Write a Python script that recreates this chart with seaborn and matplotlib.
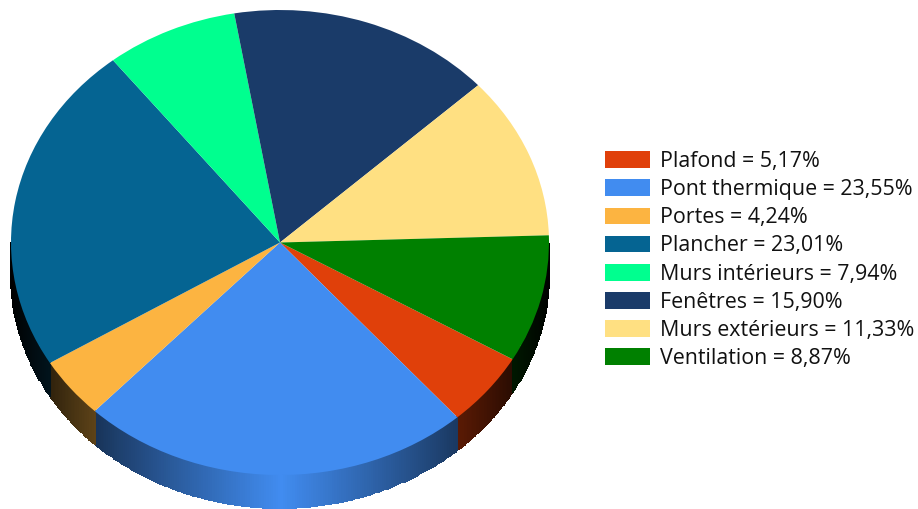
import numpy as np
import matplotlib
matplotlib.use("Agg")
import matplotlib.pyplot as plt
from matplotlib.colors import to_rgb
import seaborn as sns

postes = ["Plafond", "Pont thermique", "Portes", "Plancher",
          "Murs intérieurs", "Fenêtres", "Murs extérieurs", "Ventilation"]
parts = [5.17, 23.55, 4.24, 23.01, 7.94, 15.90, 11.33, 8.87]
etiquettes = ["5,17%", "23,55%", "4,24%", "23,01%", "7,94%", "15,90%", "11,33%", "8,87%"]
couleurs = ["#E0400A", "#418CF0", "#FCB441", "#056492",
            "#00FF8F", "#1A3B69", "#FFE082", "#008000"]

sns.set_theme(style="white", palette=couleurs)
plt.rcParams["font.family"] = ["Open Sans", "DejaVu Sans"]

W, H = 918, 509
CX, CY, RX, RY, EP = 280.0, 242.5, 269.0, 232.5, 33.0
DEPART = -30.15

fig = plt.figure(figsize=(W / 100, H / 100), dpi=100, facecolor="white")
ax = fig.add_axes([0, 0, 1, 1])

wedges, _ = ax.pie(parts, colors=sns.color_palette(couleurs), startangle=DEPART,
                   counterclock=False, radius=1.0, wedgeprops={"linewidth": 0, "zorder": 3})

# Flattened disc: one data unit is RX pixels across and RY pixels down
ax.set_aspect("auto")
ax.set_xlim(-CX / RX, (W - CX) / RX)
ax.set_ylim((CY - H) / RY, CY / RY)
ep = EP / RY


def ombre(u):
    # The side wall darkens from the middle of the disc towards both edges
    return np.clip(1 - np.abs(u), 0, 1) ** 0.85


# Side wall: only the part of each slice facing the viewer (lower half)
angles = DEPART - np.cumsum([0] + parts) * 360 / sum(parts)
for i, couleur in enumerate(couleurs):
    haut, bas = angles[i], angles[i + 1]
    for fen_h, fen_b in ((0, -180), (-360, -540)):
        h, b = min(haut, fen_h), max(bas, fen_b)
        if h <= b:
            continue
        t = np.radians(np.linspace(h, b, max(2, int((h - b) * 2))))
        x = np.cos(t)
        y = np.sin(t)
        X = np.vstack([x, x])
        Y = np.vstack([y, y - ep])
        um = (x[:-1] + x[1:]) / 2
        C = np.array(to_rgb(couleur))[None, None, :] * ombre(um)[None, :, None]
        ax.pcolormesh(X, Y, C, shading="flat", edgecolors="face",
                      linewidth=0.3, zorder=2)

libelles = [f"{p} = {e}" for p, e in zip(postes, etiquettes)]
ax.legend(wedges, libelles, loc="upper left", bbox_to_anchor=(605 / W, 1 - 151 / H),
          bbox_transform=fig.transFigure, frameon=False, fontsize=15.4,
          handlelength=2.1, handleheight=0.83, handletextpad=0.47,
          labelspacing=0.335, borderpad=0, borderaxespad=0, labelcolor="#111111")

fig.savefig("out.png", dpi=100, facecolor="white")
